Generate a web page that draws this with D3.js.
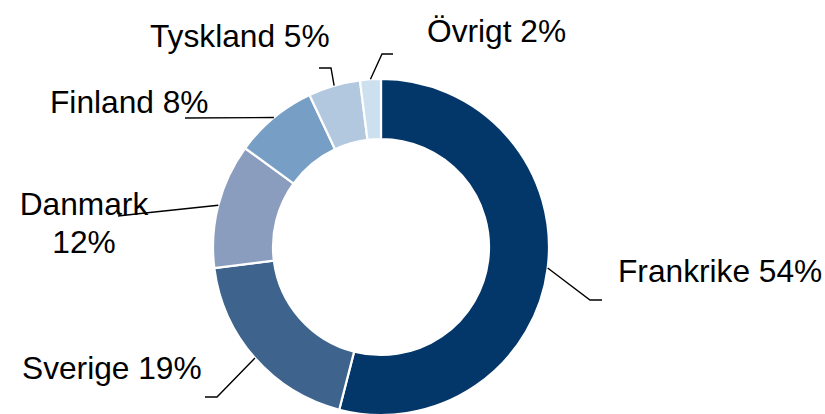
<!DOCTYPE html>
<html>
<head>
<meta charset="utf-8">
<script src="https://cdn.jsdelivr.net/npm/d3@7"></script>
<style>
  body { margin: 0; background: #fff; }
  svg { display: block; font-family: "Liberation Sans", Arial, sans-serif; }
</style>
</head>
<body>
<div class="donut-container"></div>
<script>
// data
const countries = ['Frankrike', 'Sverige', 'Danmark', 'Finland', 'Tyskland', 'Övrigt'];
const shares = [54, 19, 12, 8, 5, 2];
const sliceColors = ['#03376a', '#3e648e', '#8a9dbe', '#779fc6', '#b2c8de', '#cce0f0'];

// label layout: elbow + end of leader line, text anchor point
const labelLayout = [
  {elbow: [590, 300], end: [602, 300], tx: 618, ty: 282, anchor: 'start'},
  {elbow: [217, 397], end: [205, 397], tx: 22, ty: 379, anchor: 'start'},
  {elbow: [145, 213], end: [118, 216], tx: 84, ty: 215, anchor: 'middle', split: true},
  {elbow: null, end: [185, 118], tx: 50, ty: 113, anchor: 'start'},
  {elbow: [331, 68], end: [319, 68], tx: 150, ty: 47, anchor: 'start'},
  {elbow: [382, 54], end: [393, 54], tx: 427, ty: 42, anchor: 'start'}
];

function setupCanvas() {
  const svg_width = 825;
  const svg_height = 414;
  const cx = 381, cy = 247;
  const outerR = 168, innerR = 108;

  const svg = d3.select('.donut-container').append('svg')
    .attr('width', svg_width).attr('height', svg_height);
  const g = svg.append('g').attr('transform', `translate(${cx},${cy})`);

  const pieData = d3.pie().sort(null).value(d => d.value)(
    countries.map((c, i) => ({name: c, value: shares[i], color: sliceColors[i], layout: labelLayout[i]}))
  );

  const arc = d3.arc().innerRadius(innerR).outerRadius(outerR);

  g.selectAll('.slice')
    .data(pieData)
    .enter()
    .append('path')
    .attr('class', 'slice')
    .attr('d', arc)
    .style('fill', d => d.data.color)
    .style('stroke', '#fff')
    .style('stroke-width', 2.2);

  // leader lines start at the outer edge at mid angle
  const line = d3.line();
  svg.selectAll('.leader')
    .data(pieData)
    .enter()
    .append('path')
    .attr('class', 'leader')
    .attr('d', d => {
      const a = (d.startAngle + d.endAngle) / 2;
      const start = [cx + outerR * Math.sin(a), cy - outerR * Math.cos(a)];
      const L = d.data.layout;
      const pts = L.elbow ? [start, L.elbow, L.end] : [start, L.end];
      return line(pts);
    })
    .style('fill', 'none')
    .style('stroke', '#000')
    .style('stroke-width', 1.4);

  const labels = svg.selectAll('.label')
    .data(pieData)
    .enter()
    .append('text')
    .attr('class', 'label')
    .attr('x', d => d.data.layout.tx)
    .attr('y', d => d.data.layout.ty)
    .attr('text-anchor', d => d.data.layout.anchor)
    .style('font-size', '31.7px')
    .style('fill', '#000');

  labels.each(function(d) {
    const t = d3.select(this);
    const L = d.data.layout;
    if (L.split) {
      t.append('tspan').attr('x', L.tx).text(d.data.name);
      t.append('tspan').attr('x', L.tx).attr('dy', 38).text(`${d.data.value}%`);
    } else {
      t.text(`${d.data.name} ${d.data.value}%`);
    }
  });
}

setupCanvas();
</script>
</body>
</html>
